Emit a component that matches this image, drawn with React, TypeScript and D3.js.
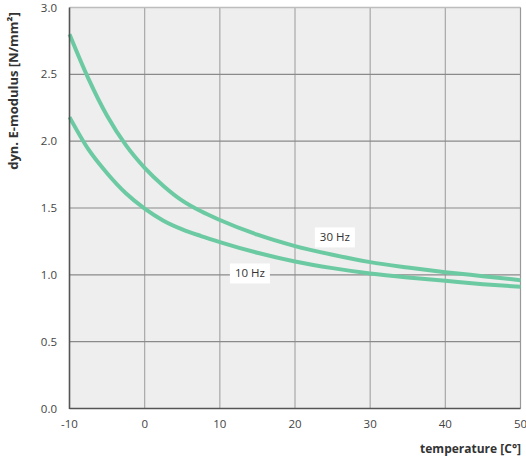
import React from "react";
import * as d3 from "d3";

const temps = [-10, -7.5, -5, -2.5, 0, 2.5, 5, 7.5, 10, 15, 20, 25, 30, 35, 40, 45, 50];
const hz30 = [2.80, 2.47, 2.19, 1.97, 1.80, 1.665, 1.555, 1.475, 1.41, 1.30, 1.215, 1.15, 1.095, 1.055, 1.02, 0.99, 0.96];
const hz10 = [2.18, 1.94, 1.76, 1.61, 1.495, 1.405, 1.34, 1.29, 1.245, 1.165, 1.10, 1.05, 1.01, 0.98, 0.955, 0.93, 0.91];
const xTicks = [-10, 0, 10, 20, 30, 40, 50];
const yTicks = [0, 0.5, 1.0, 1.5, 2.0, 2.5, 3.0];
const seriesLabels = [
  { text: "30 Hz", t: 25.3, v: 1.28 },
  { text: "10 Hz", t: 14.0, v: 1.01 },
];

const W = 526, H = 461;
const left = 69.5, right = 520.5, top = 7.5, bottom = 408.5;
const font = "'Open Sans', 'Noto Sans', sans-serif";
const green = "#6ccaa2";

export default function App() {
  const x = d3.scaleLinear().domain([-10, 50]).range([left, right]);
  const y = d3.scaleLinear().domain([0, 3]).range([bottom, top]);
  const line = d3
    .line<number>()
    .x((_, i) => x(temps[i]))
    .y((d) => y(d))
    .curve(d3.curveMonotoneX);

  return (
    <svg width={W} height={H} style={{ position: "absolute", left: 0, top: 0, background: "#fff" }} fontFamily={font}>
      <rect x={left} y={top} width={right - left} height={bottom - top} fill="#eeeeee" />
      {xTicks.slice(1, -1).map((t) => (
        <line key={"vx" + t} x1={x(t)} x2={x(t)} y1={top} y2={bottom} stroke="#a8a8a8" strokeWidth={1.2} />
      ))}
      {yTicks.slice(1, -1).map((t) => (
        <line key={"hy" + t} x1={left} x2={right} y1={y(t)} y2={y(t)} stroke="#8a8a8a" strokeWidth={1.2} />
      ))}
      <line x1={left} x2={right} y1={top} y2={top} stroke="#bdbdbd" strokeWidth={1.5} />
      <line x1={right} x2={right} y1={top} y2={bottom} stroke="#999" strokeWidth={1.2} />
      <path d={line(hz30) || ""} fill="none" stroke={green} strokeWidth={4} />
      <path d={line(hz10) || ""} fill="none" stroke={green} strokeWidth={4} />
      <line x1={left} x2={left} y1={top} y2={bottom + 0.5} stroke="#555" strokeWidth={1.6} />
      <line x1={left} x2={right} y1={bottom} y2={bottom} stroke="#555" strokeWidth={1.6} />
      {seriesLabels.map((l) => (
        <g key={l.text}>
          <rect x={x(l.t) - 20} y={y(l.v) - 10} width={40} height={20} fill="#fff" />
          <text x={x(l.t)} y={y(l.v) + 4} textAnchor="middle" fontSize={11.5} fill="#333">
            {l.text}
          </text>
        </g>
      ))}
      {yTicks.map((t) => (
        <text key={"yl" + t} x={57} y={y(t) + 4} textAnchor="end" fontSize={11.5} fill="#444">
          {t.toFixed(1)}
        </text>
      ))}
      {xTicks.map((t) => (
        <text key={"xl" + t} x={x(t)} y={428} textAnchor="middle" fontSize={11.5} fill="#444">
          {t}
        </text>
      ))}
      <text x={521} y={453} textAnchor="end" fontSize={12} fontWeight="bold" fill="#333">
        temperature [C°]
      </text>
      <text
        transform={`translate(18, 91) rotate(-90)`}
        textAnchor="middle"
        fontSize={13}
        fontWeight="bold"
        fill="#333"
      >
        dyn. E-modulus [N/mm²]
      </text>
    </svg>
  );
}
